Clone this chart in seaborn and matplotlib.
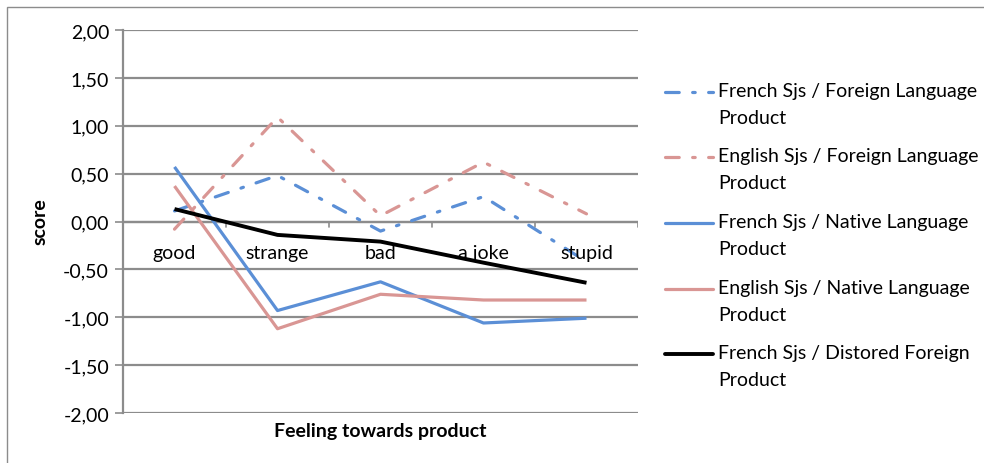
import matplotlib
matplotlib.use("Agg")
import matplotlib.pyplot as plt
from matplotlib.lines import Line2D
from matplotlib.patches import Rectangle
import seaborn as sns
import pandas as pd

# Feelings rated for each product
categories = ["good", "strange", "bad", "a joke", "stupid"]

french_foreign = [0.11, 0.48, -0.10, 0.26, -0.42]
english_foreign = [-0.08, 1.09, 0.06, 0.62, 0.08]
french_native = [0.57, -0.93, -0.63, -1.06, -1.01]
english_native = [0.37, -1.12, -0.76, -0.82, -0.82]
french_distorted = [0.13, -0.14, -0.21, -0.43, -0.64]

series_names = [
    "French Sjs / Foreign Language\nProduct",
    "English Sjs / Foreign Language\nProduct",
    "French Sjs / Native Language\nProduct",
    "English Sjs / Native Language\nProduct",
    "French Sjs / Distored Foreign\nProduct",
]
series_values = [french_foreign, english_foreign, french_native,
                 english_native, french_distorted]

y_ticks = [2.0, 1.5, 1.0, 0.5, 0.0, -0.5, -1.0, -1.5, -2.0]

BLUE = "#5B8FD6"
PINK = "#D99694"
LW = 2.3
dash_dot = (0, (4.3, 4.2, 0.8, 4.2))
styles = [
    dict(color=BLUE, linestyle=dash_dot),
    dict(color=PINK, linestyle=dash_dot),
    dict(color=BLUE, linestyle="-"),
    dict(color=PINK, linestyle="-"),
    dict(color="black", linestyle="-"),
]

sns.set_theme(style="white")
plt.rcParams["font.family"] = ["Lato", "DejaVu Sans"]
FS = 14
TXT = "#000000"

W, H = 984, 464
fig = plt.figure(figsize=(W / 100, H / 100), dpi=100)
ax = fig.add_axes([123 / W, 1 - 414 / H, (638 - 123) / W, (414 - 31) / H])

GRID = "#8C8C8C"

for name, vals, st in zip(series_names, series_values, styles):
    df = pd.DataFrame({"feeling": categories, "score": vals})
    lw = LW + 0.5 if st["color"] == "black" else LW
    sns.lineplot(data=df, x="feeling", y="score", ax=ax, lw=lw,
                 dash_capstyle="round", solid_capstyle="butt", **st,
                 zorder=3)

ax.set_xlim(-0.5, len(categories) - 0.5)
ax.set_ylim(-2.0, 2.0)
ax.set_yticks(y_ticks)
ax.set_yticklabels([f"{t:.2f}".replace(".", ",") for t in y_ticks],
                   fontsize=FS, color=TXT)
ax.yaxis.grid(True, color=GRID, lw=1.6)
ax.set_axisbelow(True)
ax.tick_params(axis="y", left=True, length=6, width=1.2, color=GRID, pad=4)

# Category axis sits on the zero line, with ticks between categories
ax.set_xticks([])
ax.set_xlabel("")
ax.set_ylabel("")
for sp in ["top", "right", "bottom"]:
    ax.spines[sp].set_visible(False)
ax.spines["left"].set_color(GRID)
ax.spines["left"].set_linewidth(1.6)
ax.axhline(0, color=GRID, lw=1.6, zorder=2)
for b in range(1, len(categories) + 1):
    ax.plot([b - 0.5, b - 0.5], [0, -0.06], color=GRID, lw=1.2, zorder=2)
for i, c in enumerate(categories):
    ax.annotate(c, (i, 0), xytext=(0, -31), textcoords="offset pixels",
                ha="center", va="center", fontsize=FS, color=TXT)

fig.text(380 / W, 1 - 432 / H, "Feeling towards product", ha="center",
         va="center", fontsize=FS, fontweight="bold", color=TXT)
fig.text(40 / W, 1 - 222 / H, "score", ha="center", va="center",
         rotation=90, fontsize=FS, fontweight="bold", color=TXT)

# Legend: handle aligned with the first line of each two-line label
legend_y = [93, 158, 224, 290, 355]
for y, name, st in zip(legend_y, series_names, styles):
    lw = LW + 0.5 if st["color"] == "black" else LW
    fig.add_artist(Line2D([665 / W, 713 / W], [1 - y / H, 1 - y / H],
                          lw=lw, dash_capstyle="round", **st))
    fig.text(718 / W, 1 - (y - 10) / H, name, ha="left", va="top",
             fontsize=FS, color=TXT, linespacing=1.68)

# Chart area border
fig.add_artist(Rectangle((7 / W, -0.1), 1.2, 1 - 8 / H + 0.1,
                         transform=fig.transFigure, fill=False,
                         edgecolor="#8C8C8C", lw=1.0))

fig.savefig("out.png", dpi=100)
